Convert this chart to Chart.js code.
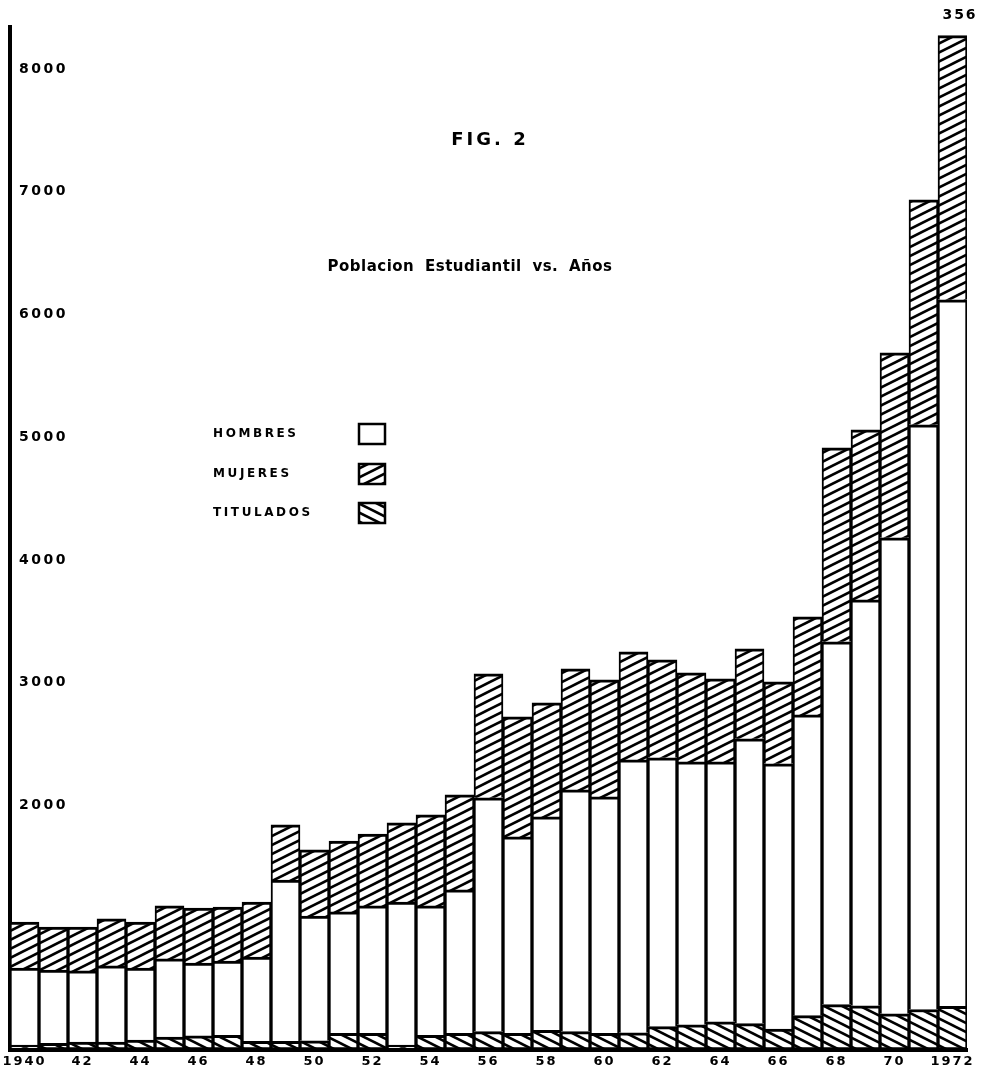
<!DOCTYPE html>
<html>
<head>
<meta charset="utf-8">
<script src="https://cdn.jsdelivr.net/npm/chart.js@4/dist/chart.umd.min.js"></script>
<style>
  html, body { margin: 0; padding: 0; background: #fff; }
  #wrap { position: relative; width: 982px; height: 1074px; }
</style>
</head>
<body>
<div id="wrap"><canvas id="c"></canvas></div>
<script>
// ---- data ----
const years = ['1940','1941','1942','1943','1944','1945','1946','1947','1948','1949',
  '1950','1951','1952','1953','1954','1955','1956','1957','1958','1959',
  '1960','1961','1962','1963','1964','1965','1966','1967','1968','1969',
  '1970','1971','1972'];
const xTickLabels = ['1940','','42','','44','','46','','48','','50','','52','','54','','56','','58','',
  '60','','62','','64','','66','','68','','70','','1972'];
const yTickLabels = [2000, 3000, 4000, 5000, 6000, 7000, 8000];
const titulados = [40,55,65,65,80,105,115,120,70,70,75,135,135,40,120,135,150,135,160,150,
  135,140,190,205,230,215,170,280,370,360,295,330,356];
const hombres = [628,597,579,620,588,637,594,605,688,1315,1017,990,1039,1166,1054,1169,1904,1601,1739,1969,
  1927,2223,2190,2142,2117,2320,2161,2450,2955,3307,3878,4764,5756];
const mujeres = [375,350,358,383,375,432,448,440,448,449,538,578,586,644,741,774,1010,978,929,986,
  953,881,798,725,677,733,668,799,1581,1386,1507,1833,2152];
const seriesNames = ['TITULADOS', 'HOMBRES', 'MUJERES'];
const legendOrder = ['HOMBRES', 'MUJERES', 'TITULADOS'];
const figTitle = 'FIG. 2';
const subTitle = 'Poblacion Estudiantil vs. Años';
const topNote = '356';

// ---- patterns ----
const canvas = document.getElementById('c');
const mainCtx = canvas.getContext('2d');
function hatch(forward) {
  const W = 18, H = 9;
  const t = document.createElement('canvas');
  t.width = W; t.height = H;
  const g = t.getContext('2d');
  g.fillStyle = '#fff'; g.fillRect(0, 0, W, H);
  g.strokeStyle = '#000'; g.lineWidth = 2.6;
  for (let k = -2; k <= 3; k++) {
    g.beginPath();
    if (forward) { g.moveTo(-4, k * H + 2); g.lineTo(W + 4, k * H - H - 2); }
    else { g.moveTo(-4, k * H - 2); g.lineTo(W + 4, k * H + H + 2); }
    g.stroke();
  }
  return mainCtx.createPattern(t, 'repeat');
}
const fwd = hatch(true);
const back = hatch(false);

const fills = { 'TITULADOS': back, 'HOMBRES': '#ffffff', 'MUJERES': fwd };
const FONT = '"DejaVu Sans", sans-serif';

const textPlugin = {
  id: 'texts',
  beforeDraw(chart) { chart.ctx.letterSpacing = '2px'; },
  afterDraw(chart) {
    const ctx = chart.ctx;
    const ys = chart.scales.y;
    ctx.save();
    ctx.fillStyle = '#000';
    ctx.textBaseline = 'middle';
    // y axis tick labels, placed by the library's y scale
    ctx.textAlign = 'left';
    ctx.font = 'bold 14px ' + FONT; ctx.letterSpacing = '2.5px';
    yTickLabels.forEach(v => {
      ctx.fillText(String(v), ys.right + 9, ys.getPixelForValue(v) + 1);
    });
    ctx.textAlign = 'center';
    ctx.font = 'bold 18px ' + FONT; ctx.letterSpacing = '3px';
    ctx.fillText(figTitle, 490, 140);
    ctx.font = 'bold 15px ' + FONT; ctx.letterSpacing = '0.5px';
    try { ctx.wordSpacing = '5px'; } catch (e) {}
    ctx.fillText(subTitle, 470, 267);
    try { ctx.wordSpacing = '0px'; } catch (e) {}
    ctx.font = 'bold 14px ' + FONT; ctx.letterSpacing = '2px';
    ctx.fillText(topNote, 960, 15);
    // legend
    const rows = [434, 474, 513];
    ctx.textAlign = 'left';
    ctx.font = 'bold 12px ' + FONT; ctx.letterSpacing = '2.6px';
    legendOrder.forEach((name, i) => {
      const y = rows[i];
      ctx.fillStyle = '#000';
      ctx.fillText(name, 213, y);
      ctx.fillStyle = fills[name];
      ctx.fillRect(359, y - 10, 26, 20);
      ctx.lineWidth = 2.5; ctx.strokeStyle = '#000';
      ctx.strokeRect(359, y - 10, 26, 20);
    });
    ctx.restore();
    ctx.letterSpacing = '0px';
  }
};

const bw = { top: 3, left: 2, right: 2, bottom: 0 };
new Chart(canvas, {
  type: 'bar',
  data: {
    labels: years,
    datasets: [
      { label: seriesNames[0], data: titulados, backgroundColor: fills['TITULADOS'], borderColor: '#000',
        borderWidth: { top: 3, left: 2, right: 2, bottom: 3 }, borderSkipped: false },
      { label: seriesNames[1], data: hombres, backgroundColor: fills['HOMBRES'], borderColor: '#000',
        borderWidth: bw, borderSkipped: false },
      { label: seriesNames[2], data: mujeres, backgroundColor: fills['MUJERES'], borderColor: '#000',
        borderWidth: bw, borderSkipped: false }
    ]
  },
  options: {
    responsive: true,
    maintainAspectRatio: false,
    animation: false,
    layout: { padding: { left: 10, right: 15, top: 27, bottom: 0 } },
    datasets: { bar: { barPercentage: 1, categoryPercentage: 1 } },
    plugins: { legend: { display: false }, tooltip: { enabled: false } },
    scales: {
      x: {
        stacked: true,
        grid: { display: false, drawTicks: false },
        border: { display: true, color: '#000', width: 4 },
        afterFit(s) { s.height = 24; },
        ticks: {
          autoSkip: false, maxRotation: 0, minRotation: 0, padding: 4,
          color: '#000', font: { family: FONT, size: 13, weight: 'bold' },
          callback: (v, i) => xTickLabels[i]
        }
      },
      y: {
        stacked: true,
        min: 0, max: 8334,
        grid: { display: false, drawTicks: false },
        border: { display: true, color: '#000', width: 4 },
        afterFit(s) { s.width = 0; },
        ticks: { display: false, stepSize: 1000 }
      }
    }
  },
  plugins: [textPlugin]
});
</script>
</body>
</html>
